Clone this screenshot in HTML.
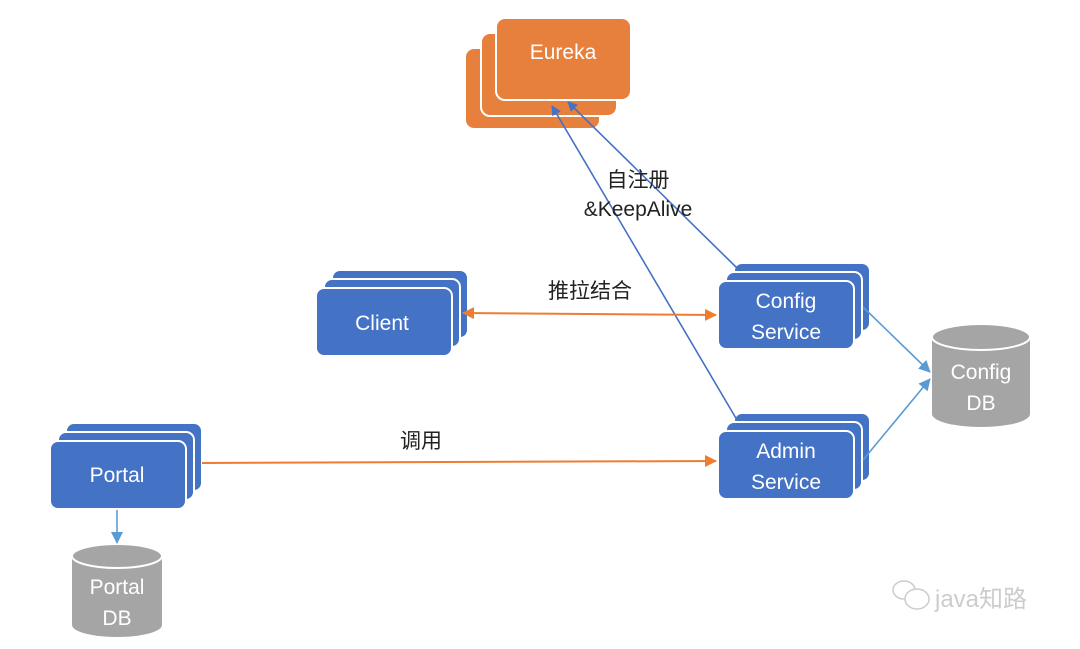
<!DOCTYPE html>
<html><head><meta charset="utf-8"><style>
html,body{margin:0;padding:0;background:#fff;}
svg{display:block;}
text{font-family:"Liberation Sans","Noto Sans CJK SC",sans-serif;}
</style></head><body>
<svg width="1080" height="649" viewBox="0 0 1080 649" xmlns="http://www.w3.org/2000/svg">
<defs>
<marker id="ab" markerWidth="10" markerHeight="10" refX="9" refY="5" orient="auto" markerUnits="userSpaceOnUse"><path d="M0,0 L10,5 L0,10 z" fill="#4472c4"/></marker>
<marker id="alb" markerWidth="12" markerHeight="12" refX="11" refY="6" orient="auto" markerUnits="userSpaceOnUse"><path d="M0,0 L12,6 L0,12 z" fill="#5b9bd5"/></marker>
<marker id="ao" markerWidth="12" markerHeight="12" refX="11" refY="6" orient="auto-start-reverse" markerUnits="userSpaceOnUse"><path d="M0,0 L12,6 L0,12 z" fill="#ed7d31"/></marker>
</defs>
<g stroke="#fff" stroke-width="2">
<rect x="465" y="48" width="135" height="81" rx="9" fill="#e6803c"/>
<rect x="481" y="33" width="136" height="83" rx="9" fill="#e6803c"/>
<rect x="496" y="18" width="135" height="82" rx="9" fill="#e6803c"/>
<rect x="332" y="270" width="136" height="68" rx="8" fill="#4472c4"/>
<rect x="324" y="279" width="136" height="68" rx="8" fill="#4472c4"/>
<rect x="316" y="288" width="136" height="68" rx="8" fill="#4472c4"/>
<rect x="734" y="263" width="136" height="68" rx="8" fill="#4472c4"/>
<rect x="726" y="272" width="136" height="68" rx="8" fill="#4472c4"/>
<rect x="718" y="281" width="136" height="68" rx="8" fill="#4472c4"/>
<rect x="734" y="413" width="136" height="68" rx="8" fill="#4472c4"/>
<rect x="726" y="422" width="136" height="68" rx="8" fill="#4472c4"/>
<rect x="718" y="431" width="136" height="68" rx="8" fill="#4472c4"/>
<rect x="66" y="423" width="136" height="68" rx="8" fill="#4472c4"/>
<rect x="58" y="432" width="136" height="68" rx="8" fill="#4472c4"/>
<rect x="50" y="441" width="136" height="68" rx="8" fill="#4472c4"/>
</g>
<path d="M932,337 L932,414 A49,13 0 0 0 1030,414 L1030,337" fill="#a5a5a5"/>
<ellipse cx="981" cy="337" rx="49" ry="13" fill="#a5a5a5" stroke="#fff" stroke-width="2"/>
<path d="M72,556 L72,625 A45,12 0 0 0 162,625 L162,556" fill="#a5a5a5"/>
<ellipse cx="117" cy="556" rx="45" ry="12" fill="#a5a5a5" stroke="#fff" stroke-width="2"/>
<line x1="737" y1="268" x2="568" y2="102" stroke="#4472c4" stroke-width="1.6" marker-end="url(#ab)"/>
<line x1="737" y1="420" x2="552" y2="106" stroke="#4472c4" stroke-width="1.6" marker-end="url(#ab)"/>
<line x1="463" y1="313" x2="716" y2="315" stroke="#ed7d31" stroke-width="2" marker-start="url(#ao)" marker-end="url(#ao)"/>
<line x1="202" y1="463" x2="716" y2="461" stroke="#ed7d31" stroke-width="2" marker-end="url(#ao)"/>
<line x1="117" y1="510" x2="117" y2="543" stroke="#5b9bd5" stroke-width="1.6" marker-end="url(#alb)"/>
<line x1="863" y1="307" x2="930" y2="372" stroke="#5b9bd5" stroke-width="1.6" marker-end="url(#alb)"/>
<line x1="863" y1="460" x2="930" y2="379" stroke="#5b9bd5" stroke-width="1.6" marker-end="url(#alb)"/>
<g fill="#fff" font-size="21" text-anchor="middle">
<text x="563" y="59">Eureka</text>
<text x="382" y="330">Client</text>
<text x="786" y="308">Config</text>
<text x="786" y="339">Service</text>
<text x="786" y="458">Admin</text>
<text x="786" y="489">Service</text>
<text x="117" y="482">Portal</text>
<text x="981" y="379">Config</text>
<text x="981" y="410">DB</text>
<text x="117" y="594">Portal</text>
<text x="117" y="625">DB</text>
</g>
<g fill="#222" font-size="21" text-anchor="middle">
<text x="638" y="187">自注册</text>
<text x="638" y="216">&amp;KeepAlive</text>
<text x="590" y="298">推拉结合</text>
<text x="421" y="448">调用</text>
</g>
<g fill="none" stroke="#ccc" stroke-width="1.5">
<ellipse cx="904" cy="590" rx="11" ry="9"/>
<ellipse cx="917" cy="599" rx="12" ry="10" fill="#fff"/>
</g>
<text x="935" y="607" font-size="24" fill="#ccc">java知路</text>
</svg>
</body></html>
